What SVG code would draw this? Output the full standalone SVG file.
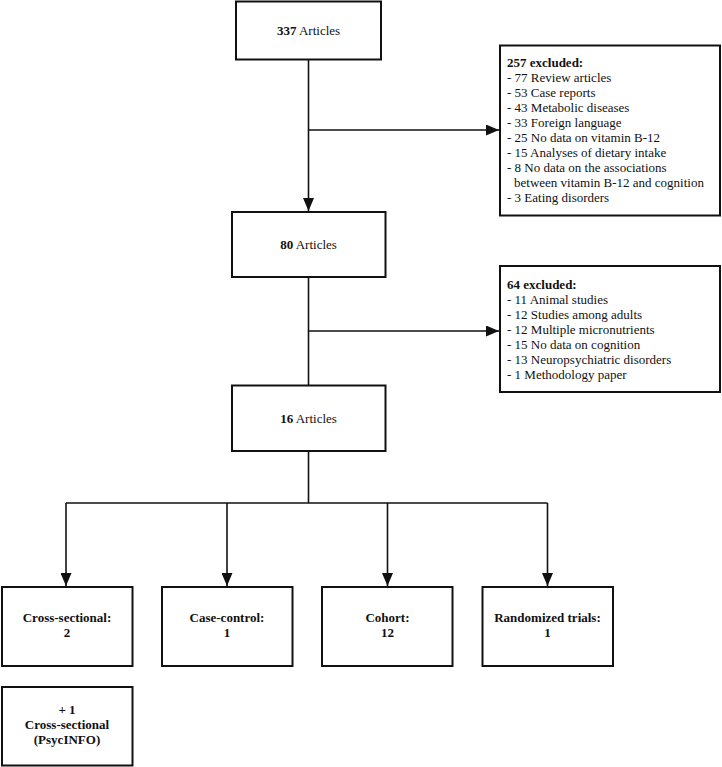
<svg xmlns="http://www.w3.org/2000/svg" width="722" height="767" viewBox="0 0 722 767">
<defs>
<style>
.box{fill:#fff;stroke:#111;stroke-width:2}
.ln{fill:none;stroke:#111;stroke-width:1.6}
text{font-family:"Liberation Serif","Times New Roman",serif;font-size:13px;fill:#111}
.c{text-anchor:middle}
.b{font-weight:bold}
</style>
<marker id="ah" markerUnits="userSpaceOnUse" markerWidth="14" markerHeight="11" refX="13" refY="5.5" orient="auto">
<path d="M0,0 L13,5.5 L0,11 z" fill="#111"/>
</marker>
</defs>
<rect width="722" height="767" fill="#fff"/>
<g id="connectors">
<line class="ln" x1="308.5" y1="60" x2="308.5" y2="211" marker-end="url(#ah)"/>
<line class="ln" x1="308.5" y1="130" x2="499" y2="130" marker-end="url(#ah)"/>
<line class="ln" x1="308.5" y1="277" x2="308.5" y2="385"/>
<line class="ln" x1="308.5" y1="331" x2="499" y2="331" marker-end="url(#ah)"/>
<line class="ln" x1="308.5" y1="451" x2="308.5" y2="503"/>
<line class="ln" x1="66" y1="503" x2="547.5" y2="503"/>
<line class="ln" x1="66" y1="503" x2="66" y2="586" marker-end="url(#ah)"/>
<line class="ln" x1="227" y1="503" x2="227" y2="586" marker-end="url(#ah)"/>
<line class="ln" x1="387.5" y1="503" x2="387.5" y2="586" marker-end="url(#ah)"/>
<line class="ln" x1="547.5" y1="503" x2="547.5" y2="586" marker-end="url(#ah)"/>
</g>
<g id="n337">
<rect class="box" x="236" y="1.5" width="145" height="58"/>
<text class="c" x="308.5" y="35"><tspan class="b">337</tspan> Articles</text>
</g>
<g id="excl257">
<rect class="box" x="500" y="45.5" width="220" height="170"/>
<text x="507" y="66.5" class="b">257 excluded:</text>
<text x="507" y="81.5">- 77 Review articles</text>
<text x="507" y="96.5">- 53 Case reports</text>
<text x="507" y="111.5">- 43 Metabolic diseases</text>
<text x="507" y="126.5">- 33 Foreign language</text>
<text x="507" y="141.5">- 25 No data on vitamin B-12</text>
<text x="507" y="156.5">- 15 Analyses of dietary intake</text>
<text x="507" y="171.5">- 8 No data on the associations</text>
<text x="514" y="186.5">between vitamin B-12 and cognition</text>
<text x="507" y="201.5">- 3 Eating disorders</text>
</g>
<g id="n80">
<rect class="box" x="232" y="212" width="153.5" height="65"/>
<text class="c" x="308.5" y="249"><tspan class="b">80</tspan> Articles</text>
</g>
<g id="excl64">
<rect class="box" x="500" y="266" width="220" height="126"/>
<text x="507" y="288.5" class="b">64 excluded:</text>
<text x="507" y="303.5">- 11 Animal studies</text>
<text x="507" y="318.5">- 12 Studies among adults</text>
<text x="507" y="333.5">- 12 Multiple micronutrients</text>
<text x="507" y="348.5">- 15 No data on cognition</text>
<text x="507" y="363.5">- 13 Neuropsychiatric disorders</text>
<text x="507" y="378.5">- 1 Methodology paper</text>
</g>
<g id="n16">
<rect class="box" x="232" y="385.5" width="153.5" height="65.5"/>
<text class="c" x="308.5" y="423"><tspan class="b">16</tspan> Articles</text>
</g>
<g id="cross">
<rect class="box" x="2" y="587" width="130.5" height="79"/>
<text class="c b" x="67" y="622">Cross-sectional:</text>
<text class="c b" x="67" y="637">2</text>
</g>
<g id="casecontrol">
<rect class="box" x="162" y="587" width="130.5" height="79"/>
<text class="c b" x="227" y="622">Case-control:</text>
<text class="c b" x="227" y="637">1</text>
</g>
<g id="cohort">
<rect class="box" x="322" y="587" width="130.5" height="79"/>
<text class="c b" x="387.5" y="622">Cohort:</text>
<text class="c b" x="387.5" y="637">12</text>
</g>
<g id="rct">
<rect class="box" x="482.5" y="587" width="130.5" height="79"/>
<text class="c b" x="547.5" y="622">Randomized trials:</text>
<text class="c b" x="547.5" y="637">1</text>
</g>
<g id="psycinfo">
<rect class="box" x="2" y="687" width="130.5" height="78.5"/>
<text class="c b" x="67" y="714">+ 1</text>
<text class="c b" x="67" y="729">Cross-sectional</text>
<text class="c b" x="67" y="744">(PsycINFO)</text>
</g>
</svg>
